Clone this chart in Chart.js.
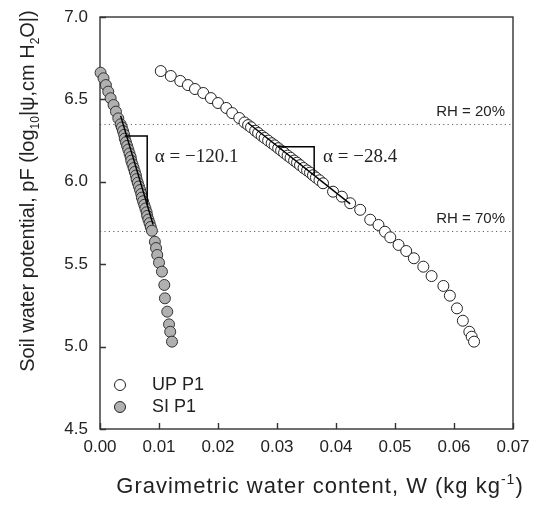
<!DOCTYPE html>
<html>
<head>
<meta charset="utf-8">
<script src="https://cdn.jsdelivr.net/npm/chart.js@4.4.0/dist/chart.umd.min.js"></script>
<style>
  html, body { margin: 0; padding: 0; background: #fff; }
  #wrap { width: 533px; height: 509px; }
</style>
</head>
<body>
<div id="wrap"><canvas id="chart" width="533" height="509"></canvas></div>
<script>
// Data
const upW = [0.0103, 0.0120, 0.0136, 0.0149, 0.0161, 0.0175, 0.0188, 0.0200, 0.0214, 0.0224, 0.0236,
  0.0245, 0.0251, 0.0256, 0.0263, 0.0268, 0.0274, 0.0279, 0.0285, 0.0291, 0.0296, 0.0302, 0.0307, 0.0312, 0.0318,
  0.0323, 0.0329, 0.0334, 0.0339, 0.0345, 0.0351, 0.0356, 0.0361, 0.0366, 0.0372,
  0.0378, 0.0395, 0.0410, 0.0424, 0.0441, 0.0458, 0.0472, 0.0483, 0.0492, 0.0506, 0.0519, 0.0532, 0.0548,
  0.0562, 0.0582, 0.0593, 0.0605, 0.0615, 0.0626, 0.0630, 0.0634];
const upPF = [6.672, 6.642, 6.612, 6.587, 6.563, 6.539, 6.508, 6.478, 6.448, 6.417, 6.387,
  6.360, 6.344, 6.331, 6.310, 6.296, 6.279, 6.266, 6.250, 6.234, 6.221, 6.204, 6.190, 6.176, 6.159,
  6.146, 6.129, 6.116, 6.101, 6.084, 6.069, 6.056, 6.040, 6.026, 6.009,
  5.991, 5.940, 5.910, 5.870, 5.830, 5.770, 5.738, 5.697, 5.663, 5.617, 5.580, 5.536, 5.485,
  5.428, 5.368, 5.309, 5.232, 5.157, 5.090, 5.060, 5.030];

const siW = [0.0001, 0.0006, 0.0010, 0.0014, 0.0018, 0.0023, 0.0027, 0.0031, 0.0035,
  0.0037, 0.0039, 0.0041, 0.0042, 0.0044, 0.0046, 0.0048, 0.0050, 0.0052, 0.0053,
  0.0055, 0.0057, 0.0059, 0.0061, 0.0062, 0.0064, 0.0066, 0.0068, 0.0070, 0.0071,
  0.0073, 0.0075, 0.0077, 0.0079, 0.0080, 0.0082, 0.0084, 0.0086, 0.0088,
  0.0093, 0.0095, 0.0097, 0.0100, 0.0105, 0.0109, 0.0110, 0.0114, 0.0117, 0.0119, 0.0122];
const siPF = [6.662, 6.628, 6.587, 6.547, 6.507, 6.466, 6.426, 6.385, 6.349,
  6.330, 6.308, 6.285, 6.262, 6.240, 6.218, 6.196, 6.172, 6.150, 6.128,
  6.106, 6.083, 6.060, 6.038, 6.016, 5.994, 5.972, 5.950, 5.926, 5.904,
  5.882, 5.860, 5.838, 5.815, 5.793, 5.771, 5.749, 5.726, 5.703,
  5.636, 5.598, 5.556, 5.509, 5.455, 5.374, 5.293, 5.212, 5.135, 5.090, 5.030];

// slope guides (tangent + triangle)
const upTanW = [0.0251, 0.0424];
const upTanPF = [6.357, 5.866];
const upTriW = [0.0302, 0.0363, 0.0363];
const upTriPF = [6.213, 6.213, 6.039];
const siTanW = [0.0035, 0.0090];
const siTanPF = [6.40, 5.74];
const siTriW = [0.0042, 0.0080, 0.0080];
const siTriPF = [6.278, 6.278, 5.86];

const alphaText = ['α = −120.1', 'α = −28.4'];
const alphaW = [0.0093, 0.0378];
const alphaPF = [6.15, 6.15];

const rhLevels = [6.35, 5.70];
const rhText = ['RH = 20%', 'RH = 70%'];

const xTicks = [0.00, 0.01, 0.02, 0.03, 0.04, 0.05, 0.06, 0.07];
const yTicks = [4.5, 5.0, 5.5, 6.0, 6.5, 7.0];
const seriesNames = ['UP P1', 'SI P1'];

const SANS = '"Liberation Sans", Arial, sans-serif';
const SERIF = '"Liberation Serif", "Times New Roman", serif';
const INK = '#222';

function pts(xs, ys) { return xs.map((v, i) => ({ x: v, y: ys[i] })); }

// text with sub/superscripts, centred on (cx, cy)
function drawRich(ctx, parts, cx, cy, angle, size, spacing) {
  ctx.save();
  ctx.translate(cx, cy);
  ctx.rotate(angle);
  ctx.textAlign = 'left';
  ctx.textBaseline = 'alphabetic';
  ctx.fillStyle = INK;
  if ('letterSpacing' in ctx) ctx.letterSpacing = (spacing || 0) + 'px';
  const big = size + 'px ' + SANS;
  const small = Math.round(size * 0.62) + 'px ' + SANS;
  let w = 0;
  parts.forEach(p => { ctx.font = p.s ? small : big; w += ctx.measureText(p.t).width; });
  let x0 = -w / 2;
  const base = size * 0.36;
  parts.forEach(p => {
    ctx.font = p.s ? small : big;
    const dy = p.s === 'sub' ? size * 0.26 : (p.s === 'sup' ? -size * 0.42 : 0);
    ctx.fillText(p.t, x0, base + dy);
    x0 += ctx.measureText(p.t).width;
  });
  ctx.restore();
}

const decor = {
  id: 'decor',
  beforeDatasetsDraw(chart) {
    const { ctx, chartArea: a, scales: { x, y } } = chart;
    ctx.save();
    // RH reference lines
    ctx.strokeStyle = '#666';
    ctx.lineWidth = 1;
    ctx.setLineDash([1.2, 3.2]);
    rhLevels.forEach(v => {
      const py = Math.round(y.getPixelForValue(v)) + 0.5;
      ctx.beginPath(); ctx.moveTo(a.left, py); ctx.lineTo(a.right, py); ctx.stroke();
    });
    ctx.setLineDash([]);
    // frame
    ctx.strokeStyle = '#333';
    ctx.lineWidth = 1.4;
    ctx.strokeRect(a.left, a.top, a.right - a.left, a.bottom - a.top);
    // inward ticks
    ctx.beginPath();
    xTicks.forEach(v => {
      const px = Math.round(x.getPixelForValue(v)) + 0.5;
      ctx.moveTo(px, a.bottom); ctx.lineTo(px, a.bottom - 6);
    });
    yTicks.forEach(v => {
      const py = Math.round(y.getPixelForValue(v)) + 0.5;
      ctx.moveTo(a.left, py); ctx.lineTo(a.left + 6, py);
    });
    ctx.stroke();
    // tick labels
    ctx.fillStyle = INK;
    ctx.font = '17px ' + SANS;
    ctx.textBaseline = 'middle';
    ctx.textAlign = 'center';
    xTicks.forEach(v => ctx.fillText(v.toFixed(2), x.getPixelForValue(v), a.bottom + 18));
    ctx.textAlign = 'right';
    yTicks.forEach(v => ctx.fillText(v.toFixed(1), a.left - 12, y.getPixelForValue(v)));
    ctx.restore();
  },
  afterDatasetsDraw(chart) {
    const { ctx, chartArea: a, scales: { x, y } } = chart;
    ctx.save();
    ctx.fillStyle = INK;
    // slope labels
    ctx.font = '19px ' + SERIF;
    ctx.textAlign = 'left';
    ctx.textBaseline = 'middle';
    alphaText.forEach((t, i) => ctx.fillText(t, x.getPixelForValue(alphaW[i]), y.getPixelForValue(alphaPF[i])));
    // RH labels
    ctx.font = '15px ' + SANS;
    ctx.textAlign = 'right';
    ctx.textBaseline = 'middle';
    rhLevels.forEach((v, i) => ctx.fillText(rhText[i], a.right - 8, y.getPixelForValue(v) - 12.5));
    // legend
    const fills = ['#ffffff', '#b0b0b0'];
    ctx.font = '18px ' + SANS;
    ctx.textAlign = 'left';
    seriesNames.forEach((n, i) => {
      const ly = a.bottom - 44 + i * 22;
      ctx.beginPath();
      ctx.arc(a.left + 20, ly, 5.5, 0, Math.PI * 2);
      ctx.fillStyle = fills[i]; ctx.fill();
      ctx.strokeStyle = '#222'; ctx.lineWidth = 1; ctx.stroke();
      ctx.fillStyle = INK;
      ctx.fillText(n, a.left + 52, ly);
    });
    ctx.restore();
  },
  afterDraw(chart) {
    const { ctx } = chart;
    drawRich(ctx, [
      { t: 'Soil water potential, pF (log' }, { t: '10', s: 'sub' },
      { t: '|ψ,cm H' }, { t: '2', s: 'sub' }, { t: 'O|)' }
    ], 27, 191, -Math.PI / 2, 20, 0);
    drawRich(ctx, [
      { t: 'Gravimetric water content, W (kg kg' }, { t: '-1', s: 'sup' }, { t: ')' }
    ], 320, 485, 0, 22, 1);
  }
};

const ctx = document.getElementById('chart').getContext('2d');
const lineStyle = { showLine: true, pointRadius: 0, borderColor: '#000', borderWidth: 1.5, order: 0, clip: false };
const chart = new Chart(ctx, {
  type: 'scatter',
  data: {
    datasets: [
      Object.assign({ label: 'upTan', data: pts(upTanW, upTanPF) }, lineStyle),
      Object.assign({ label: 'upTri', data: pts(upTriW, upTriPF) }, lineStyle),
      Object.assign({ label: 'siTan', data: pts(siTanW, siTanPF) }, lineStyle),
      Object.assign({ label: 'siTri', data: pts(siTriW, siTriPF) }, lineStyle),
      { label: seriesNames[0], data: pts(upW, upPF), pointRadius: 5.5, pointBorderWidth: 1,
        pointBackgroundColor: '#ffffff', pointBorderColor: '#222', order: 1, clip: false },
      { label: seriesNames[1], data: pts(siW, siPF), pointRadius: 5.5, pointBorderWidth: 1,
        pointBackgroundColor: '#b0b0b0', pointBorderColor: '#333', order: 2, clip: false }
    ]
  },
  options: {
    responsive: false,
    animation: false,
    events: [],
    layout: { padding: { top: 17, right: 20, left: 0, bottom: 0 } },
    plugins: { legend: { display: false }, tooltip: { enabled: false } },
    scales: {
      x: {
        type: 'linear', min: 0, max: 0.07,
        afterFit: s => { s.height = 80; },
        grid: { display: false, drawTicks: false },
        border: { display: false },
        ticks: { display: false }
      },
      y: {
        type: 'linear', min: 4.5, max: 7.0,
        afterFit: s => { s.width = 100; },
        grid: { display: false, drawTicks: false },
        border: { display: false },
        ticks: { display: false }
      }
    }
  },
  plugins: [decor]
});
</script>
</body>
</html>
